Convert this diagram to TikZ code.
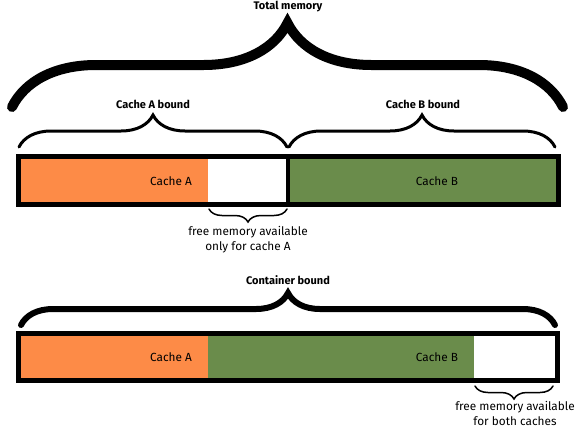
\documentclass[tikz,border=0pt]{standalone}
\usepackage{fontspec}
\setmainfont{Fira Sans}
\usetikzlibrary{decorations.pathreplacing}
\definecolor{cacheA}{HTML}{FD8B47}
\definecolor{cacheB}{HTML}{6A8C4B}
\tikzset{
  bound/.style={decorate, decoration={brace, amplitude=#1}, line cap=round},
  txt/.style={font=\fontsize{11.8}{15}\selectfont, align=center, inner sep=0pt},
  title/.style={font=\fontsize{11}{12}\selectfont\bfseries, inner sep=0pt},
}

\begin{document}
\begin{tikzpicture}[x=1pt, y=1pt]
  \useasboundingbox (0, 0) rectangle (575, -429);

  \fill[cacheA] (18, -156) rectangle (208, -204);
  \fill[cacheB] (288, -156) rectangle (558, -204);
  \draw[line width=4pt] (288, -156) -- (288, -204);
  \draw[line width=5pt] (18, -156) rectangle (558, -204);

  \fill[cacheA] (18, -333) rectangle (208, -380);
  \fill[cacheB] (208, -333) rectangle (474, -380);
  \draw[line width=5pt] (18, -333) rectangle (557, -380);

  \coordinate (totL) at (12, -107);
  \coordinate (totR) at (563, -107);
  \coordinate (aL) at (19, -147);
  \coordinate (aR) at (287, -147);
  \coordinate (bL) at (289, -147);
  \coordinate (bR) at (555, -147);
  \coordinate (freeAL) at (209, -209);
  \coordinate (freeAR) at (287, -209);
  \coordinate (contL) at (21, -325);
  \coordinate (contR) at (555, -325);
  \coordinate (freeL) at (475, -386);
  \coordinate (freeR) at (553, -386);

  \draw[bound=84pt, line width=10pt] (totL) -- (totR);
  \draw[bound=32pt, line width=3pt] (aL) -- (aR);
  \draw[bound=32pt, line width=3pt] (bL) -- (bR);
  \draw[bound=32pt, line width=6pt] (contL) -- (contR);
  \draw[bound=13pt, line width=1.5pt] (freeAR) -- (freeAL);
  \draw[bound=13pt, line width=1.5pt] (freeR) -- (freeL);

  \node[title] (total) at (288, -7) {Total memory};
  \node[title] (boundA) at (153, -104) {Cache A bound};
  \node[title] (boundB) at (423, -104) {Cache B bound};
  \node[title] (container) at (288, -280) {Container bound};

  \node[txt] (cacheA1) at (171, -181) {Cache A};
  \node[txt] (cacheB1) at (437, -181) {Cache B};
  \node[txt] (cacheA2) at (171, -357) {Cache A};
  \node[txt] (cacheB2) at (437, -357) {Cache B};

  \node[txt] (freeA) at (248, -240) {free memory available\\only for cache A};
  \node[txt] (freeBoth) at (515, -413) {free memory available\\for both caches};
\end{tikzpicture}
\end{document}
